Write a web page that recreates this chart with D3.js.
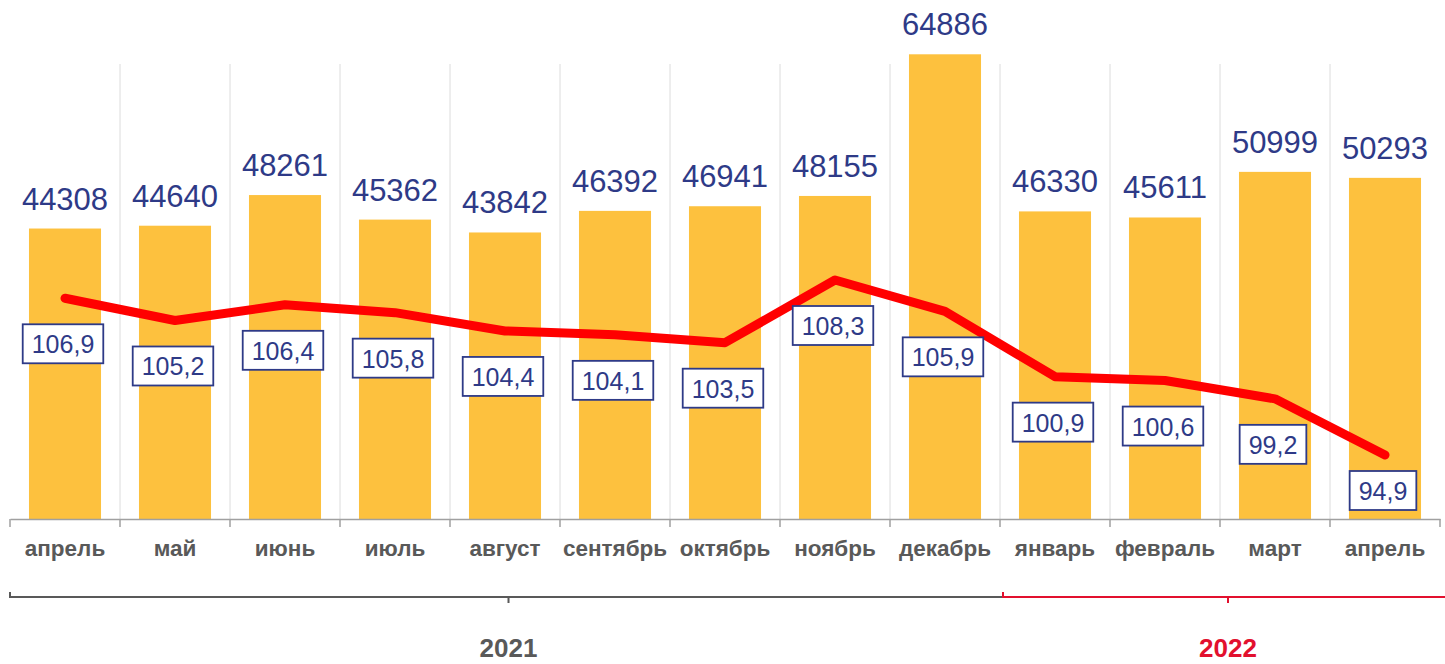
<!DOCTYPE html>
<html>
<head>
<meta charset="utf-8">
<script src="https://cdn.jsdelivr.net/npm/d3@7"></script>
<style>
  html, body { margin: 0; padding: 0; background: #fff; }
  svg { display: block; font-family: Arial, "Liberation Sans", sans-serif; }
</style>
</head>
<body>
<div id="chart"></div>
<script>
// data
const months = ["апрель", "май", "июнь", "июль", "август", "сентябрь", "октябрь",
                "ноябрь", "декабрь", "январь", "февраль", "март", "апрель"];
const volumes = [44308, 44640, 48261, 45362, 43842, 46392, 46941, 48155, 64886, 46330, 45611, 50999, 50293];
const indexes = [106.9, 105.2, 106.4, 105.8, 104.4, 104.1, 103.5, 108.3, 105.9, 100.9, 100.6, 99.2, 94.9];
const years = ["2021", "2022"];
const yearFirstMonth = [0, 9];   // index of the first month of each year

const width = 1445, height = 664;
const axisY = 519;
const barColor = "#FDC13E", navy = "#2E3A87", gray = "#595959";
const yearColors = [gray, "#E2102E"];

const svg = d3.select("#chart").append("svg")
    .attr("width", width)
    .attr("height", height);

const x = d3.scaleBand()
    .domain(d3.range(months.length))
    .range([10, 1440]);
const barW = x.step() * 0.655;

const y = d3.scaleLinear().domain([10000, 70000]).range([axisY, 11]);
const y2 = d3.scaleLinear().domain([90, 130]).range([axisY, -3.4]);

// faint separators between months
svg.append("g")
    .selectAll("line")
    .data(d3.range(1, months.length))
    .join("line")
    .attr("x1", i => x(i)).attr("x2", i => x(i))
    .attr("y1", 64).attr("y2", axisY)
    .attr("stroke", "#dcdcdc")
    .attr("stroke-width", 1);

// bars
svg.append("g")
    .selectAll("rect")
    .data(volumes)
    .join("rect")
    .attr("x", (d, i) => x(i) + (x.step() - barW) / 2)
    .attr("y", d => y(d))
    .attr("width", barW)
    .attr("height", d => axisY - y(d))
    .attr("fill", barColor);

// bar values
svg.append("g")
    .selectAll("text")
    .data(volumes)
    .join("text")
    .attr("x", (d, i) => x(i) + x.step() / 2)
    .attr("y", d => y(d) - 19)
    .attr("text-anchor", "middle")
    .attr("font-size", 31)
    .attr("fill", navy)
    .text(d => d);

// x axis
const axis = svg.append("g").attr("transform", `translate(0,${axisY})`)
    .call(d3.axisBottom(x).tickSize(0).tickFormat(i => months[i]));
axis.select(".domain").attr("stroke", "#a0a0a0").attr("stroke-width", 1.5);
axis.selectAll(".tick text")
    .attr("dy", 0)
    .attr("y", 37)
    .attr("font-size", 22.5)
    .attr("font-weight", "bold")
    .attr("font-family", "Arial, 'Liberation Sans', sans-serif")
    .attr("fill", gray);
svg.append("g")
    .selectAll("line")
    .data(d3.range(months.length + 1))
    .join("line")
    .attr("x1", i => i < months.length ? x(i) : x(i - 1) + x.step())
    .attr("x2", i => i < months.length ? x(i) : x(i - 1) + x.step())
    .attr("y1", axisY).attr("y2", axisY + 8)
    .attr("stroke", "#a0a0a0")
    .attr("stroke-width", 1.5);

// index line
const line = d3.line()
    .x((d, i) => x(i) + x.step() / 2)
    .y(d => y2(d));
svg.append("path")
    .datum(indexes)
    .attr("d", line)
    .attr("fill", "none")
    .attr("stroke", "#FF0000")
    .attr("stroke-width", 9)
    .attr("stroke-linecap", "round")
    .attr("stroke-linejoin", "round");

// boxed index labels
const fmt = d => d3.format(".1f")(d).replace(".", ",");
const boxH = 39;
const labels = svg.append("g")
    .selectAll("g")
    .data(indexes)
    .join("g")
    .attr("transform", (d, i) => {
        const top = Math.min(y2(d) + 26, 510 - boxH);
        return `translate(${x(i) + x.step() / 2 - 2},${top})`;
    });
labels.append("rect").attr("class", "box");
labels.append("text")
    .attr("text-anchor", "middle")
    .attr("y", 29)
    .attr("font-size", 25)
    .attr("fill", navy)
    .text(fmt);
labels.each(function () {
    const g = d3.select(this);
    const w = g.select("text").node().getComputedTextLength() + 18;
    g.select("rect")
        .attr("x", -w / 2).attr("y", 0)
        .attr("width", w).attr("height", boxH)
        .attr("fill", "#fff")
        .attr("stroke", navy)
        .attr("stroke-width", 1.8);
});

// year brackets
const bracketY = 597;
years.forEach((yr, k) => {
    const x0 = x(yearFirstMonth[k]) + (k > 0 ? 3 : 0);
    const x1 = k === years.length - 1 ? width : x(yearFirstMonth[k + 1]) + 3;
    const mid = (x0 + x1) / 2 + (k > 0 ? 4 : 2);
    const g = svg.append("g").attr("stroke", yearColors[k]).attr("stroke-width", 2).attr("fill", "none");
    g.append("path").attr("d", `M${x0},${bracketY - 5}V${bracketY}H${x1}`);
    g.append("line").attr("x1", mid).attr("x2", mid).attr("y1", bracketY).attr("y2", bracketY + 6);
    svg.append("text")
        .attr("x", mid)
        .attr("y", 657)
        .attr("text-anchor", "middle")
        .attr("font-size", 26)
        .attr("font-weight", "bold")
        .attr("fill", yearColors[k])
        .text(yr);
});
</script>
</body>
</html>
